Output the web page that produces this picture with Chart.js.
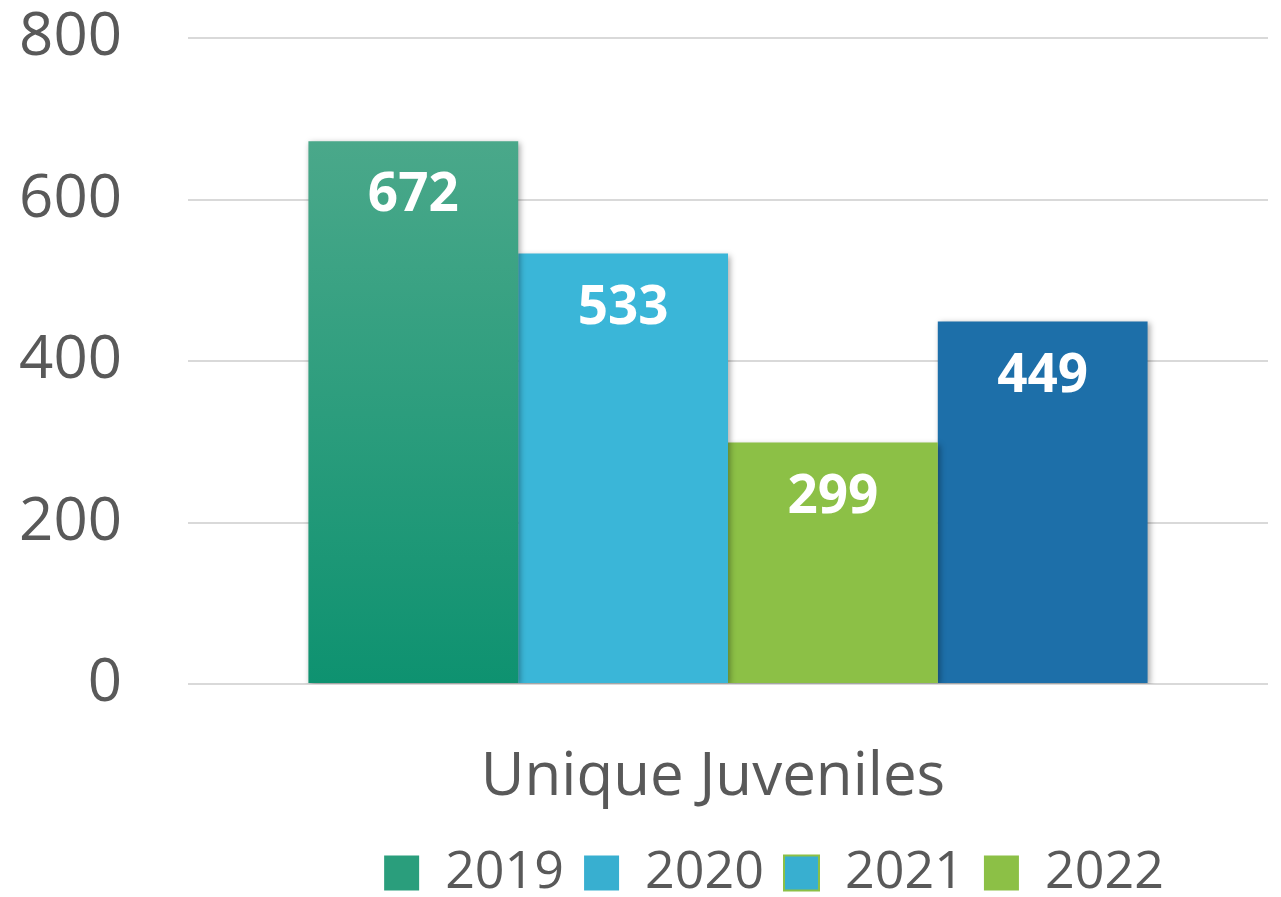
<!DOCTYPE html>
<html>
<head>
<meta charset="utf-8">
<script src="https://cdn.jsdelivr.net/npm/chart.js@4"></script>
<style>
  html, body { margin: 0; padding: 0; background: #fff; }
  #wrap { width: 1281px; height: 897px; }
</style>
</head>
<body>
<div id="wrap"><canvas id="grafico"></canvas></div>
<script>
const categorias = ['Unique Juveniles'];
const anos = ['2019', '2020', '2021', '2022'];
const valores = [672, 533, 299, 449];
const yTicks = [0, 200, 400, 600, 800];

const cores = ['#0e9270', '#3ab6d8', '#8cc046', '#1d6fa9'];
const coresLegenda = ['#2a9e7c', '#38afd0', '#38afd0', '#8cc046'];
const cinza = '#595959';

function gradienteVerde(ctx) {
  const area = ctx.chart.chartArea;
  if (!area) return cores[0];
  const g = ctx.chart.ctx.createLinearGradient(0, ctx.chart.scales.y.getPixelForValue(valores[0]), 0, area.bottom);
  g.addColorStop(0, '#4aa88a');
  g.addColorStop(1, '#0e9270');
  return g;
}

// sombra nas barras, rotulos brancos e posicao da legenda
const rotulos = {
  id: 'rotulos',
  beforeDatasetsDraw(chart) {
    const c = chart.ctx;
    c.save();
    c.shadowColor = 'rgba(0,0,0,0.35)';
    c.shadowBlur = 6;
    c.shadowOffsetX = 2;
    c.shadowOffsetY = 2;
  },
  afterDatasetsDraw(chart) {
    const c = chart.ctx;
    c.restore();
    c.save();
    c.fillStyle = '#ffffff';
    c.font = 'bold 53px "Open Sans"';
    c.textAlign = 'center';
    c.textBaseline = 'middle';
    chart.data.datasets.forEach((ds, i) => {
      chart.getDatasetMeta(i).data.forEach((bar, j) => {
        c.fillText(ds.data[j], bar.x, bar.y + 55);
      });
    });
    c.restore();
  },
  afterLayout(chart) {
    const l = chart.legend;
    l.left += 131;
    l.right += 131;
    l.top += 12;
    l.bottom += 12;
  }
};

const datasets = anos.map((ano, i) => ({
  label: ano,
  data: [valores[i]],
  backgroundColor: i === 0 ? gradienteVerde : cores[i],
  borderWidth: 0
}));

new Chart(document.getElementById('grafico'), {
  type: 'bar',
  data: { labels: categorias, datasets: datasets },
  plugins: [rotulos],
  options: {
    responsive: true,
    maintainAspectRatio: false,
    animation: false,
    layout: { padding: { left: 18, right: 13, top: 0, bottom: 0 } },
    datasets: { bar: { categoryPercentage: 0.777, barPercentage: 1 } },
    scales: {
      x: {
        grid: { display: false },
        border: { display: false },
        ticks: { color: cinza, font: { family: 'Open Sans', size: 60 }, padding: 50, labelOffset: -15 },
        afterFit(axis) {
          axis.height = 131;
          axis.paddingLeft = 0;
          axis.paddingRight = 0;
        }
      },
      y: {
        min: 0,
        max: 800,
        afterBuildTicks(axis) { axis.ticks = yTicks.map(v => ({ value: v })); },
        grid: { color: '#d9d9d9', lineWidth: 2, drawTicks: false },
        border: { display: false },
        ticks: { color: cinza, font: { family: 'Open Sans', size: 60 }, padding: 66 },
        afterFit(axis) {
          axis.width = 170;
          axis.paddingTop = 38;
          axis.paddingBottom = 0;
        }
      }
    },
    plugins: {
      tooltip: { enabled: false },
      legend: {
        position: 'bottom',
        labels: {
          color: cinza,
          font: { family: 'Open Sans', size: 52 },
          boxWidth: 35,
          boxHeight: 35,
          padding: 20,
          generateLabels(chart) {
            return anos.map((ano, i) => ({
              text: ano,
              fillStyle: coresLegenda[i],
              strokeStyle: i === 2 ? '#8cc046' : coresLegenda[i],
              lineWidth: i === 2 ? 2 : 0,
              fontColor: cinza,
              datasetIndex: i
            }));
          }
        }
      }
    }
  }
});
</script>
</body>
</html>
